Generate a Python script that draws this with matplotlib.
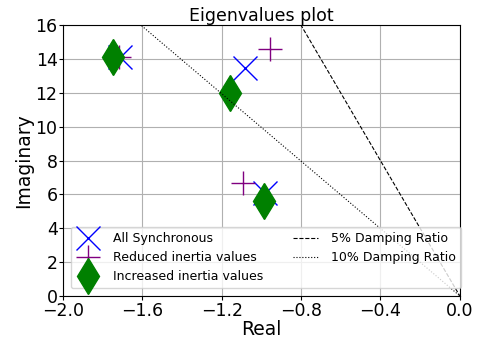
import numpy as np
import matplotlib
matplotlib.use("Agg")
import matplotlib.pyplot as plt

# eigenvalues (real, imaginary)
sync_re = [-1.715, -1.083, -0.982]
sync_im = [14.1, 13.45, 6.1]
reduced_re = [-1.72, -0.957, -1.093]
reduced_im = [14.1, 14.58, 6.67]
increased_re = [-1.748, -1.159, -0.987]
increased_im = [14.1, 11.98, 5.6]

damping = [0.05, 0.10]
damping_labels = ["5% Damping Ratio", "10% Damping Ratio"]
damping_styles = ["--", ":"]

fig = plt.figure(figsize=(4.82, 3.39), dpi=100)
ax = fig.add_axes([0.131, 0.127, 0.823, 0.799])

ax.plot(sync_re, sync_im, "x", color="blue", markersize=17, label="All Synchronous")
ax.plot(reduced_re, reduced_im, "+", color="purple", markersize=17, label="Reduced inertia values")
ax.plot(increased_re, increased_im, "d", color="green", markersize=18, label="Increased inertia values")

re = np.array([-2.0, 0.0])
for z, lab, ls in zip(damping, damping_labels, damping_styles):
    slope = -np.sqrt(1 - z ** 2) / z
    ax.plot(re, slope * re, ls, color="black", linewidth=0.8, label=lab)

ax.set_xlim(-2.0, 0.0)
ax.set_ylim(0, 16)
ax.set_xticks(np.arange(-2.0, 0.01, 0.4))
ax.set_yticks(np.arange(0, 17, 2))
ax.grid(True)
ax.tick_params(labelsize=12.5, length=3, pad=1)
ax.set_xlabel("Real", fontsize=13.5, labelpad=0)
ax.set_ylabel("Imaginary", fontsize=13.5, labelpad=2)
ax.set_title("Eigenvalues plot", fontsize=12.5, pad=2)
ax.legend(loc="lower left", ncol=2, fontsize=9, borderaxespad=0.6,
          handletextpad=1.0, columnspacing=2.4)

fig.savefig("out.png", dpi=100)
